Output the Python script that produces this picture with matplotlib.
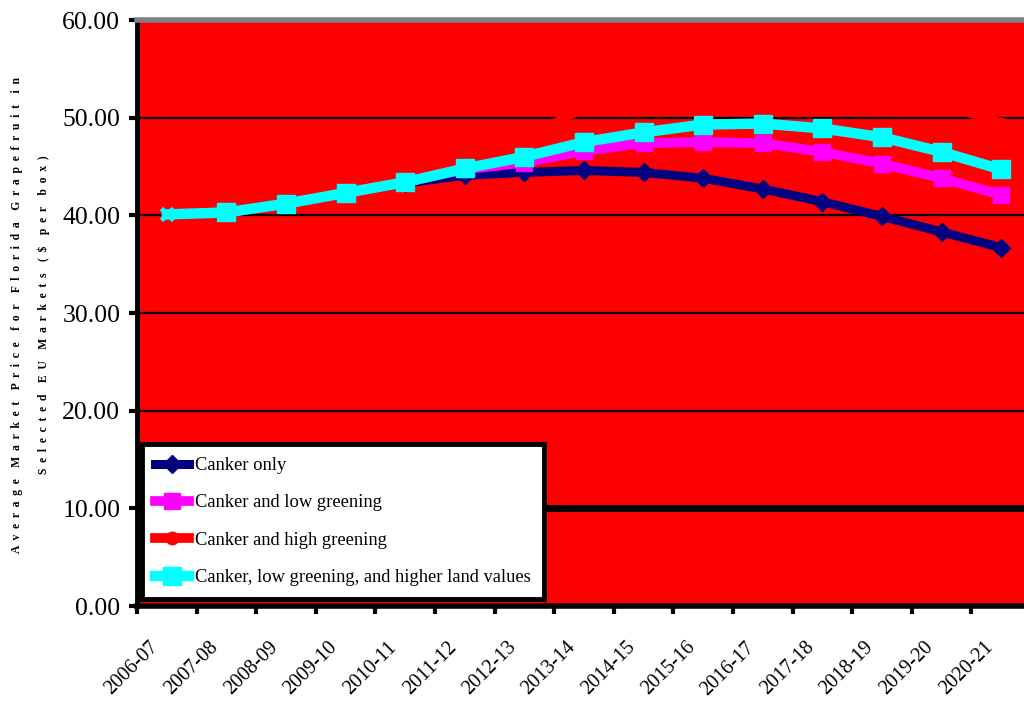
import numpy as np
import matplotlib
matplotlib.use('Agg')
import matplotlib.pyplot as plt

seasons = ['2006-07', '2007-08', '2008-09', '2009-10', '2010-11', '2011-12', '2012-13',
           '2013-14', '2014-15', '2015-16', '2016-17', '2017-18', '2018-19', '2019-20', '2020-21']
canker_only = [40.1, 40.3, 41.2, 42.3, 43.3, 44.1, 44.4, 44.6, 44.4, 43.8, 42.7, 41.4, 39.9, 38.3, 36.7]
canker_low = [40.1, 40.3, 41.2, 42.3, 43.4, 44.7, 45.4, 46.6, 47.4, 47.5, 47.4, 46.5, 45.3, 43.8, 42.1]
canker_high = [40.1, 40.3, 41.2, 42.3, 43.4, 45.0, 47.5, 51.2, 52.8, 53.6, 53.8, 53.4, 52.6, 51.5, 49.4]
canker_land = [40.1, 40.3, 41.2, 42.3, 43.4, 44.8, 46.0, 47.5, 48.5, 49.3, 49.4, 48.9, 48.0, 46.5, 44.7]
yticks = [0, 10, 20, 30, 40, 50, 60]

plt.rcParams['font.family'] = ['Liberation Serif', 'DejaVu Serif']

fig = plt.figure(figsize=(10.24, 7.06), dpi=100)
ax = fig.add_axes([0.1338, 0.1416, 0.873, 0.830])
ax.set_facecolor('#FF0000')

x = np.arange(len(seasons))
ax.set_xlim(-0.5, len(seasons) - 0.5)
ax.set_ylim(0, 60)

# gridlines
for v in yticks[1:-1]:
    ax.axhline(v, color='black', lw=5 if v == 10 else 1.6, zorder=1)

rest = slice(1, None)
ax.plot(x, canker_only, color='#000080', lw=6.5, marker='D', ms=9, zorder=3,
        markevery=rest, label='Canker only')
ax.plot(x, canker_low, color='#FF00FF', lw=7, marker='s', ms=11, zorder=4,
        markevery=rest, label='Canker and low greening')
ax.plot(x, canker_high, color='#FF0000', lw=7, marker='o', ms=9, zorder=5,
        markevery=rest, label='Canker and high greening')
ax.plot(x, canker_land, color='#00FFFF', lw=7.5, marker='s', ms=13, zorder=6,
        markevery=rest, label='Canker, low greening, and higher land values')
ax.plot(x[:1], canker_land[:1], color='#00FFFF', marker='x', ms=9, mew=3.5, ls='none', zorder=6)

ax.set_yticks(yticks)
ax.set_yticklabels(['%.2f' % v for v in yticks], fontsize=18.5)
ax.set_xticks(np.arange(len(seasons) + 1) - 0.5, minor=False)
ax.set_xticklabels([])
# labels sit a little left of the category centre, as in the original
ax.set_xticks(x - 0.3, minor=True)
ax.set_xticklabels(seasons, minor=True, rotation=45, ha='right',
                   rotation_mode='anchor', fontsize=14.5)
ax.tick_params(axis='x', which='minor', length=0, pad=23)
ax.tick_params(axis='x', which='major', length=6, width=3, direction='out')
ax.tick_params(axis='y', length=6, width=3, direction='out', pad=6)

ax.spines['left'].set_linewidth(3.5)
ax.spines['bottom'].set_linewidth(4)
ax.spines['top'].set_color('#808080')
ax.spines['top'].set_linewidth(4)
ax.spines['right'].set_visible(False)

leg = ax.legend(loc='lower left', bbox_to_anchor=(0.006, 0.012), borderaxespad=0,
                fontsize=13.3, frameon=True, fancybox=False, framealpha=1,
                handlelength=1.85, labelspacing=1.1, borderpad=0.7, handletextpad=0.3)
leg.get_frame().set_edgecolor('black')
leg.get_frame().set_linewidth(3.5)
leg.set_zorder(10)

line1 = 'Average Market Price for Florida Grapefruit in'
line2 = 'Selected EU Markets ($ per box)'
spaced = lambda s: '    '.join('  '.join(w) for w in s.split(' '))
fig.text(0.017, 0.554, spaced(line1), rotation=90, ha='center', va='center',
         fontsize=8.4, fontweight='bold')
fig.text(0.043, 0.554, spaced(line2), rotation=90, ha='center', va='center',
         fontsize=8.4, fontweight='bold')

fig.savefig('out.png', dpi=100)
